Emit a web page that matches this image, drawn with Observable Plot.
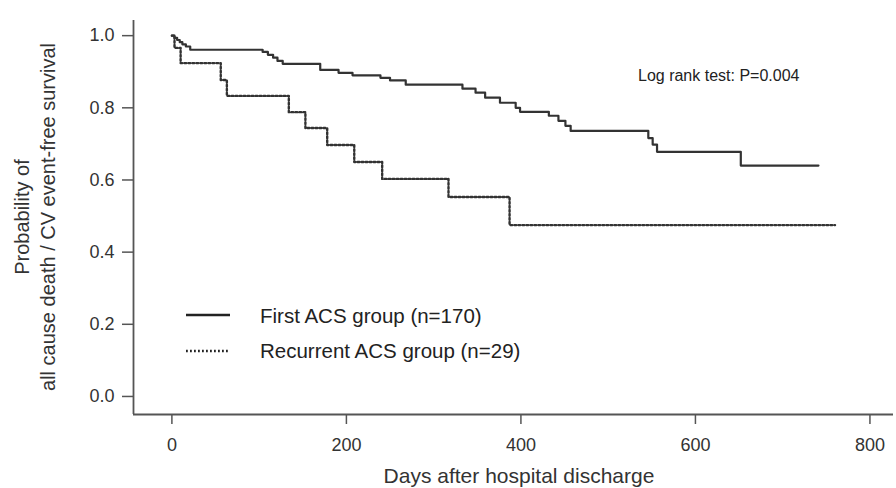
<!DOCTYPE html>
<html>
<head>
<meta charset="utf-8">
<script src="https://cdn.jsdelivr.net/npm/d3@7"></script>
<script src="https://cdn.jsdelivr.net/npm/@observablehq/plot@0.6"></script>
<style>
  html, body { margin: 0; padding: 0; background: #fff; }
  #wrap { position: relative; width: 896px; height: 488px; font-family: "Liberation Sans", Arial, sans-serif; color: #333; }
</style>
</head>
<body>
<div id="wrap"></div>
<script>
// Series: First ACS group (n=170)
const firstDays = [0, 3, 6, 9, 12, 16, 21, 104, 110, 116, 121, 127, 170, 191, 207, 239, 250, 268, 333, 348, 359, 376, 394, 399, 432, 443, 451, 457, 546, 551, 556, 652, 741];
const firstSurv = [1.0, 0.994, 0.988, 0.982, 0.976, 0.970, 0.961, 0.955, 0.947, 0.939, 0.930, 0.922, 0.905, 0.897, 0.890, 0.883, 0.876, 0.864, 0.853, 0.842, 0.828, 0.814, 0.800, 0.789, 0.778, 0.764, 0.750, 0.736, 0.716, 0.698, 0.678, 0.640, 0.640];
// Series: Recurrent ACS group (n=29)
const recDays = [0, 3, 10, 56, 63, 134, 153, 178, 209, 241, 317, 387, 760];
const recSurv = [1.0, 0.966, 0.924, 0.877, 0.833, 0.788, 0.744, 0.697, 0.650, 0.603, 0.553, 0.475, 0.475];

const seriesNames = ["First ACS group (n=170)", "Recurrent ACS group (n=29)"];
const xTicks = [0, 200, 400, 600, 800];
const yTicks = [0.0, 0.2, 0.4, 0.6, 0.8, 1.0];
const xDomain = [-44, 827];
const yDomain = [-0.05, 1.042];
const xTitle = "Days after hospital discharge";
const yTitle = ["Probability of", "all cause death / CV event-free survival"];
const note = "Log rank test: P=0.004";

const first = firstDays.map((d, i) => ({day: d, s: firstSurv[i]}));
const rec = recDays.map((d, i) => ({day: d, s: recSurv[i]}));

const plot = Plot.plot({
  width: 896,
  height: 488,
  marginLeft: 133,
  marginRight: 3,
  marginTop: 20,
  marginBottom: 74,
  style: {fontFamily: "Liberation Sans, Arial, sans-serif", color: "#333", background: "#fff"},
  x: {domain: xDomain},
  y: {domain: yDomain},
  marks: [
    Plot.axisY({ticks: yTicks, tickFormat: d3.format(".1f"), tickSize: 11, tickPadding: 8, fontSize: 18, label: null, stroke: "#555", strokeWidth: 1.5, fill: "#333"}),
    Plot.axisX({ticks: xTicks, tickSize: 10, tickPadding: 14, fontSize: 18, label: null, stroke: "#555", strokeWidth: 1.5, fill: "#333"}),
    Plot.ruleX([xDomain[0]], {stroke: "#555", strokeWidth: 1.8}),
    Plot.ruleY([yDomain[0]], {stroke: "#555", strokeWidth: 1.8}),
    Plot.line(first, {x: "day", y: "s", curve: "step-after", stroke: "#333", strokeWidth: 2.2}),
    Plot.line(rec, {x: "day", y: "s", curve: "step-after", stroke: "#333", strokeWidth: 2.4, strokeDasharray: "1.8,2.2"})
  ]
});

const wrap = document.getElementById("wrap");
wrap.appendChild(plot);

const svg = d3.select(plot);
const xr = plot.scale("x").range;
const yr = plot.scale("y").range;
const xc = (xr[0] + xr[1]) / 2;
const yc = (yr[0] + yr[1]) / 2;

// Axis titles
svg.append("text")
  .attr("x", xc + 6).attr("y", 483)
  .attr("text-anchor", "middle")
  .attr("font-size", 21).attr("fill", "#333")
  .text(xTitle);
const yt = svg.append("text")
  .attr("transform", `translate(29,${yc}) rotate(-90)`)
  .attr("text-anchor", "middle")
  .attr("font-size", 20).attr("fill", "#333");
yt.append("tspan").attr("x", 0).attr("dy", 0).text(yTitle[0]);
yt.append("tspan").attr("x", 0).attr("dy", 26).text(yTitle[1]);

// Legend
const legRows = [
  {name: seriesNames[0], dash: null, ly: 315, ty: 323, w: 2.4},
  {name: seriesNames[1], dash: "1.8,2.2", ly: 351, ty: 358, w: 2.4}
];
legRows.forEach(r => {
  svg.append("line")
    .attr("x1", 186).attr("x2", 230).attr("y1", r.ly).attr("y2", r.ly)
    .attr("stroke", "#222").attr("stroke-width", r.w)
    .attr("stroke-dasharray", r.dash);
  svg.append("text")
    .attr("x", 260).attr("y", r.ty)
    .attr("text-anchor", "start")
    .attr("font-size", 20.5).attr("fill", "#222")
    .text(r.name);
});

// Annotation
svg.append("text")
  .attr("x", 638).attr("y", 81)
  .attr("text-anchor", "start")
  .attr("font-size", 16).attr("fill", "#222")
  .text(note);
</script>
</body>
</html>
